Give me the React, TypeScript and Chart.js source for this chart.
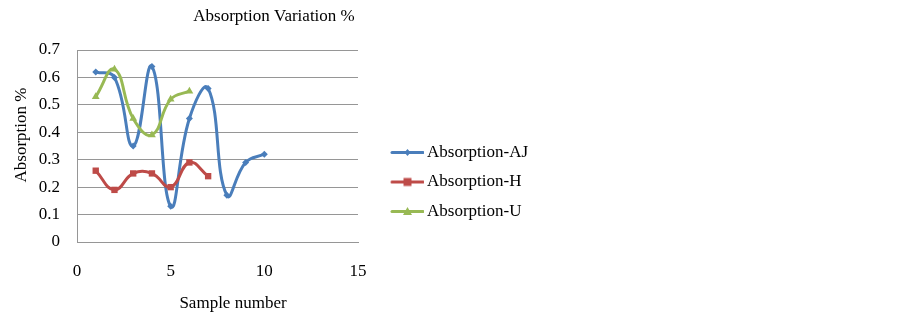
import React, { useEffect, useRef } from 'react';
import { Chart, registerables } from 'chart.js';

Chart.register(...registerables);

// ---- data ----
const sampleAJ = [1, 2, 3, 4, 5, 6, 7, 8, 9, 10];
const absorptionAJ = [0.62, 0.6, 0.35, 0.64, 0.13, 0.45, 0.56, 0.17, 0.29, 0.32];
const sampleH = [1, 2, 3, 4, 5, 6, 7];
const absorptionH = [0.26, 0.19, 0.25, 0.25, 0.2, 0.29, 0.24];
const sampleU = [1, 2, 3, 4, 5, 6];
const absorptionU = [0.53, 0.63, 0.45, 0.39, 0.52, 0.55];
const seriesNames = ['Absorption-AJ', 'Absorption-H', 'Absorption-U'];
const seriesColors = ['#4A7EBB', '#BE4B48', '#98B954'];
const xTickValues = [0, 5, 10, 15];
const yTickValues = [0, 0.1, 0.2, 0.3, 0.4, 0.5, 0.6, 0.7];
const chartTitle = 'Absorption Variation %';
const xTitle = 'Sample number';
const yTitle = 'Absorption %';

const FONT = "'Liberation Serif', 'Times New Roman', serif";
const GRID = '#969696';

function makeLegendMarker(color: string, shape: string): HTMLCanvasElement {
  const c = document.createElement('canvas');
  c.width = 59;
  c.height = 11;
  const ctx = c.getContext('2d')!;
  ctx.strokeStyle = color;
  ctx.fillStyle = color;
  ctx.lineWidth = 3;
  ctx.lineCap = 'round';
  ctx.beginPath();
  ctx.moveTo(27, 5.5);
  ctx.lineTo(58, 5.5);
  ctx.stroke();
  const cx = 42.5;
  const cy = 5.5;
  ctx.beginPath();
  if (shape === 'diamond') {
    ctx.moveTo(cx, cy - 3.5);
    ctx.lineTo(cx + 3, cy);
    ctx.lineTo(cx, cy + 3.5);
    ctx.lineTo(cx - 3, cy);
  } else if (shape === 'square') {
    ctx.rect(cx - 4, cy - 4, 8, 8);
  } else {
    ctx.moveTo(cx, cy - 4.5);
    ctx.lineTo(cx + 4.5, cy + 3.5);
    ctx.lineTo(cx - 4.5, cy + 3.5);
  }
  ctx.closePath();
  ctx.fill();
  return c;
}

const shiftTitles = {
  id: 'shiftTitles',
  afterUpdate(chart: any) {
    const patch = (scale: any, dx: number, dy: number) => {
      if (!scale || scale.__shifted) return;
      const orig = scale.drawTitle;
      scale.drawTitle = function (...args: any[]) {
        const ctx = this.ctx;
        ctx.save();
        ctx.translate(dx, dy);
        orig.apply(this, args);
        ctx.restore();
      };
      scale.__shifted = true;
    };
    patch(chart.scales.x, 15.5, 0);
    patch(chart.scales.y, 0, -11);
  },
};

export default function App() {
  const ref = useRef<HTMLCanvasElement>(null);

  useEffect(() => {
    if (!ref.current) return;
    const markers = [
      makeLegendMarker(seriesColors[0], 'diamond'),
      makeLegendMarker(seriesColors[1], 'square'),
      makeLegendMarker(seriesColors[2], 'triangle'),
    ];
    const toPoints = (xs: number[], ys: number[]) => xs.map((x, i) => ({ x, y: ys[i] }));
    const chart = new Chart(ref.current, {
      type: 'scatter',
      data: {
        datasets: [
          {
            label: seriesNames[0],
            data: toPoints(sampleAJ, absorptionAJ),
            borderColor: seriesColors[0],
            backgroundColor: seriesColors[0],
            pointStyle: 'rectRot',
            pointRadius: 3.5,
            order: 3,
          },
          {
            label: seriesNames[1],
            data: toPoints(sampleH, absorptionH),
            borderColor: seriesColors[1],
            backgroundColor: seriesColors[1],
            pointStyle: 'rect',
            pointRadius: 4.5,
            order: 2,
          },
          {
            label: seriesNames[2],
            data: toPoints(sampleU, absorptionU),
            borderColor: seriesColors[2],
            backgroundColor: seriesColors[2],
            pointStyle: 'triangle',
            pointRadius: 4.5,
            order: 1,
          },
        ] as any,
      },
      options: {
        animation: false,
        responsive: false,
        maintainAspectRatio: false,
        showLine: true,
        datasets: { scatter: { showLine: true } } as any,
        elements: {
          line: { borderWidth: 3, tension: 0.45, cubicInterpolationMode: 'default' },
          point: { borderWidth: 0, hoverRadius: 4 },
        },
        layout: { padding: { left: 11, top: 0, bottom: 0, right: 366 } },
        plugins: {
          tooltip: { enabled: false },
          title: {
            display: true,
            text: chartTitle,
            color: '#000',
            font: { family: FONT, size: 17, weight: 'normal' },
            padding: { top: 6.8, bottom: 22.8 },
          },
          legend: {
            display: true,
            position: 'right',
            align: 'start',
            maxWidth: 179,
            title: {
              display: true,
              text: ' ',
              font: { family: FONT, size: 10 },
              padding: { top: 0, bottom: 119.5 },
            },
            labels: {
              color: '#000',
              font: { family: FONT, size: 17 },
              padding: 12.5,
              usePointStyle: true,
              pointStyleWidth: 48,
              generateLabels: () =>
                seriesNames.map((name, i) => ({
                  text: name,
                  datasetIndex: i,
                  pointStyle: markers[i] as any,
                  fillStyle: seriesColors[i],
                  strokeStyle: seriesColors[i],
                  lineWidth: 0,
                  hidden: false,
                  fontColor: '#000',
                })),
            },
          },
        },
        scales: {
          x: {
            type: 'linear',
            min: 0,
            max: 15,
            afterFit: (s: any) => {
              s.height = 77;
            },
            afterBuildTicks: (s: any) => {
              s.ticks = xTickValues.map((v) => ({ value: v }));
            },
            ticks: {
              color: '#000',
              font: { family: FONT, size: 17 },
              padding: 19,
            },
            grid: { display: false, drawTicks: false },
            border: { display: true, color: GRID, width: 1 },
            title: {
              display: true,
              text: xTitle,
              color: '#000',
              font: { family: FONT, size: 17 },
              padding: { top: 0, bottom: 4.8 },
            },
          },
          y: {
            type: 'linear',
            min: 0,
            max: 0.7,
            afterFit: (s: any) => {
              s.width = 66;
            },
            afterBuildTicks: (s: any) => {
              s.ticks = yTickValues.map((v) => ({ value: v }));
            },
            ticks: {
              color: '#000',
              font: { family: FONT, size: 17 },
              padding: 17,
              callback: (v: any) => String(Math.round(Number(v) * 10) / 10),
            },
            grid: { display: true, color: GRID, lineWidth: 1, drawTicks: false },
            border: { display: true, color: GRID, width: 1 },
            title: {
              display: true,
              text: yTitle,
              color: '#000',
              font: { family: FONT, size: 17 },
              padding: { top: 0, bottom: 0 },
            },
          },
        },
      },
      plugins: [shiftTitles],
    });
    return () => chart.destroy();
  }, []);

  return (
    <div style={{ position: 'fixed', left: 0, top: 0, width: 903, height: 319, background: '#fff' }}>
      <canvas ref={ref} width={903} height={319} style={{ display: 'block', width: 903, height: 319 }} />
    </div>
  );
}
